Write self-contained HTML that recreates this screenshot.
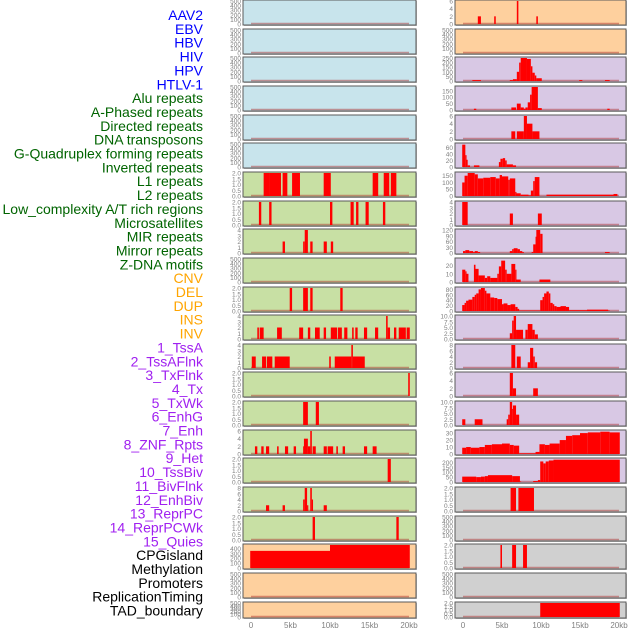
<!DOCTYPE html>
<html><head><meta charset="utf-8"><style>
body{margin:0;background:#fff;width:630px;height:630px;overflow:hidden}
svg{display:block;font-family:"Liberation Sans",sans-serif}
</style></head><body>
<svg id="chart" width="630" height="630"></svg>
<script>
const labels=["AAV2","EBV","HBV","HIV","HPV","HTLV-1","Alu repeats","A-Phased repeats","Directed repeats","DNA transposons","G-Quadruplex forming repeats","Inverted repeats","L1 repeats","L2 repeats","Low_complexity A/T rich regions","Microsatellites","MIR repeats","Mirror repeats","Z-DNA motifs","CNV","DEL","DUP","INS","INV","1_TssA","2_TssAFlnk","3_TxFlnk","4_Tx","5_TxWk","6_EnhG","7_Enh","8_ZNF_Rpts","9_Het","10_TssBiv","11_BivFlnk","12_EnhBiv","13_ReprPC","14_ReprPCWk","15_Quies","CPGisland","Methylation","Promoters","ReplicationTiming","TAD_boundary"];
const labelColors=["#0000ff","#0000ff","#0000ff","#0000ff","#0000ff","#0000ff","#006400","#006400","#006400","#006400","#006400","#006400","#006400","#006400","#006400","#006400","#006400","#006400","#006400","#ffa500","#ffa500","#ffa500","#ffa500","#ffa500","#a020f0","#a020f0","#a020f0","#a020f0","#a020f0","#a020f0","#a020f0","#a020f0","#a020f0","#a020f0","#a020f0","#a020f0","#a020f0","#a020f0","#a020f0","#000","#000","#000","#000","#000"];
const xTicks=[0,5,10,15,20];
const xTickLabels=["0","5kb","10kb","15kb","20kb"];
const T500=[0,100,200,300,400,500], T2=[0,0.5,1,1.5,2];
const B="#c8e4ec",G="#c8e0a4",P="#fed09e",V="#d8c8e4",Y="#d0d0d0";
const leftBg=[B,B,B,B,B,B,G,G,G,G,G,G,G,G,G,G,G,G,G,P,P,P];
const rightBg=[P,P,V,V,V,V,V,V,V,V,V,V,V,V,V,V,V,Y,Y,Y,Y,Y];
const leftMax=[500,500,500,500,500,500,2,2,4,500,2,4,4,2,2,6,2,8,2,470,500,500];
const leftTicks=[T500,T500,T500,T500,T500,T500,T2,T2,[0,1,2,3,4],T500,T2,[0,1,2,3,4],[0,1,2,3,4],T2,T2,[0,2,4,6],T2,[0,2,4,6,8],T2,[0,100,200,300,400],T500,T500];
const leftSegs=[[],[],[],[],[],[],
[[1.6,2.4,2],[2.4,3.8,2],[4.0,4.6,2],[5.2,6.2,2],[9.2,10.1,2],[15.4,16.1,2],[16.8,17.5,2],[17.7,18.4,2]],
[[1.0,1.3,2],[2.3,2.6,2],[10.0,10.3,2],[12.6,13.0,2],[13.3,13.6,2],[14.5,14.9,2],[16.7,17.0,2]],
[[4.0,4.3,2],[6.6,6.8,2],[6.8,7.2,4],[7.5,7.8,2],[9.2,9.6,2],[10.1,10.4,2]],
[],
[[4.9,5.2,2],[6.6,7.2,2],[7.5,7.8,2],[11.3,11.6,2]],
[[0.8,1.0,2],[1.1,1.6,2],[3.3,3.9,2],[6.1,6.6,2],[7.2,7.5,2],[8.1,8.7,2],[9.2,9.5,2],[10.1,10.9,2],[11.0,11.5,2],[11.8,12.2,2],[12.8,13.0,2],[13.2,13.5,2],[14.3,14.7,2],[15.7,16.1,2],[17.1,17.3,4],[17.3,17.6,2],[18.1,18.4,2],[18.7,19.6,2],[19.7,20.1,2]],
[[0.1,0.6,2],[1.4,1.9,2],[2.0,2.7,2],[3.0,4.9,2],[9.9,10.1,2],[10.6,12.7,2],[12.7,12.9,4],[12.9,14.4,2]],
[[19.9,20.1,2]],
[[6.6,7.2,2],[8.2,8.6,2]],
[[0.5,0.8,2],[1.3,1.6,2],[1.9,2.3,2],[3.3,3.5,2],[4.3,4.7,2],[5.4,5.7,2],[6.6,6.7,2],[6.7,7.2,4],[7.2,7.5,2],[7.5,7.7,6],[7.8,8.2,2],[9.2,9.6,2],[9.7,10.4,2],[10.8,11.0,2],[11.6,11.9,2],[14.3,14.7,2],[15.4,15.9,2]],
[[17.3,17.7,2]],
[[1.9,2.3,2],[4.0,4.3,2],[6.6,6.8,4],[6.8,7.1,8],[7.1,7.2,2],[7.5,7.7,8],[7.7,7.8,4],[9.2,9.6,2]],
[[7.8,8.1,2],[18.4,18.7,2]],
[[-0.1,10.0,350],[10.0,20.1,470]],
[],[]];
const rightMax=[6,500,250,180,6,70,170,4,120,28,85,10,8,6,10,33,235,2,500,2,500,2];
const rightTicks=[[0,2,4,6],T500,[0,50,100,150,200,250],[0,50,100,150],[0,2,4,6],[0,20,40,60],[0,50,100,150],[0,1,2,3,4],[0,30,60,90,120],[0,10,20],[0,20,40,60,80],[0,2.5,5,7.5,10],[0,2,4,6,8],[0,2,4,6],[0,2.5,5,7.5,10],[0,10,20,30],[0,50,100,150,200],T2,T500,T2,T500,T2];
const rightSegs=[
[[1.9,2.3,2],[4.0,4.2,2],[6.9,7.1,6],[9.4,9.6,2]],
[],
[[1.2,2.3,10],[6.0,6.4,10],[6.4,6.9,20],[6.9,7.2,100],[7.2,7.4,200],[7.4,8.2,250],[8.2,8.7,240],[8.7,8.9,160],[8.9,9.2,90],[9.2,9.4,60],[9.4,10.1,30],[14.9,15.3,10],[18.2,18.8,10]],
[[1.4,1.7,10],[6.2,6.8,20],[6.9,7.4,50],[7.4,7.8,20],[7.8,8.0,10],[8.0,8.3,20],[8.3,8.6,60],[8.6,8.8,120],[8.8,9.6,180],[9.6,10.1,15],[18.5,18.8,10]],
[[6.2,6.7,2],[6.9,7.8,2],[7.8,8.2,6],[8.2,8.9,4],[8.9,9.8,2]],
[[-0.1,0.3,68],[0.3,0.4,36],[0.4,0.6,22],[0.6,0.9,5],[1.4,2.1,5],[4.6,4.8,15],[4.8,5.1,25],[5.1,5.4,27],[5.4,5.6,20],[5.6,6.4,8],[6.4,6.8,5]],
[[-0.1,0.2,100],[0.2,0.6,150],[0.6,1.5,170],[1.5,1.9,160],[1.9,2.6,130],[2.6,3.5,135],[3.5,4.2,140],[4.2,4.7,130],[4.7,5.0,155],[5.0,5.8,145],[5.8,6.0,120],[6.0,6.7,130],[6.7,6.8,30],[6.8,7.4,20],[7.4,8.4,10],[8.4,8.7,5],[8.7,9.0,40],[9.0,9.2,110],[9.2,9.8,140],[10.7,19.3,10],[19.3,19.8,15]],
[[-0.1,0.6,4],[6.0,6.4,2],[9.6,10.1,2]],
[[0,0.3,10],[0.3,0.8,15],[0.8,1.3,10],[1.3,1.5,5],[1.5,1.9,10],[1.9,2.2,5],[6.0,6.3,10],[6.3,6.5,20],[6.5,7.0,25],[7.0,7.3,20],[7.3,7.6,10],[7.6,7.8,5],[8.8,9.0,5],[9.0,9.3,45],[9.3,9.4,85],[9.4,9.9,120],[9.9,10.2,100],[18.2,18.8,5]],
[[-0.1,0.3,15],[0.3,0.4,13],[0.4,0.7,10],[1.4,1.6,21],[1.6,2.0,16],[2.0,2.8,8],[2.8,3.1,5],[3.1,3.5,7],[3.5,4.4,5],[4.4,4.6,10],[4.6,4.9,19],[4.9,5.4,26],[5.4,5.6,15],[5.6,6.2,10],[6.2,6.7,22],[6.7,6.8,15],[6.8,7.4,3],[9.8,11.2,3]],
[[-0.1,0.2,22],[0.2,0.4,30],[0.4,0.7,38],[0.7,1.2,42],[1.2,1.5,52],[1.5,1.7,60],[1.7,2.0,65],[2.0,2.3,80],[2.3,2.8,85],[2.8,3.0,75],[3.0,3.5,65],[3.5,4.0,50],[4.0,4.4,48],[4.4,5.0,44],[5.0,5.2,25],[5.2,5.7,28],[5.7,6.1,22],[6.1,6.7,25],[6.7,7.0,15],[7.0,7.2,8],[7.2,9.9,2],[9.9,10.2,40],[10.2,10.4,52],[10.4,10.7,65],[10.7,11.0,72],[11.0,11.2,65],[11.2,11.5,30],[11.5,11.7,25],[11.7,12.0,18],[12.0,12.5,15],[12.5,13.2,18],[13.2,13.6,15],[13.6,15.9,3],[15.9,18.6,5],[18.6,18.8,2]],
[[6.0,6.3,2.5],[6.3,6.5,8],[6.5,6.8,10],[6.8,7.7,4],[8.0,8.3,4],[8.3,8.9,6.5],[8.9,9.2,4],[9.2,9.6,2]],
[[6.2,6.7,8],[6.9,7.4,4],[8.3,8.6,2],[8.6,9.0,7],[9.0,9.2,4],[9.2,9.5,2]],
[[6.0,6.4,6],[6.4,6.8,2],[9.0,9.6,2]],
[[-0.1,0.3,2.5],[1.5,2.5,2.5],[5.6,5.8,2.5],[5.8,6.0,4.5],[6.0,6.3,10],[6.3,6.4,7],[6.4,6.8,8.5],[6.8,7.2,4.5]],
[[-0.1,0.4,9],[0.4,1.0,10],[1.0,2.1,9],[2.1,2.8,10],[2.8,3.7,13],[3.7,5.0,14],[5.0,6.0,15],[6.0,6.5,13],[6.5,7.2,12],[7.2,9.3,1],[9.3,9.8,3],[9.8,10.5,14],[10.5,11.1,13],[11.1,12.4,15],[12.4,13.2,20],[13.2,14.0,26],[14.0,15.0,27],[15.0,16.0,30],[16.0,17.6,31],[17.6,18.8,32],[18.8,20.1,31]],
[[-0.1,1.7,55],[1.7,2.3,50],[2.3,2.8,55],[2.8,3.2,60],[3.2,6.3,70],[6.3,7.3,60],[7.3,7.4,5],[9.0,9.6,10],[9.6,9.9,20],[9.9,10.3,210],[10.3,10.6,190],[10.6,11.0,210],[11.0,11.6,220],[11.6,20.1,228]],
[[6.1,6.8,2],[7.1,9.1,2]],
[],
[[4.8,5.0,2],[6.3,6.8,2],[7.7,8.2,2]],
[],
[[9.9,20.1,2]]];

const NS="http://www.w3.org/2000/svg";
const svg=document.getElementById('chart');
function mk(tag,attrs,parent){const e=document.createElementNS(NS,tag);for(const k in attrs)e.setAttribute(k,attrs[k]);(parent||svg).appendChild(e);return e;}
function rowTop(i){return Math.round(i*28.65);}
function rowH(i){return i===21?16:25;}
labels.forEach((t,i)=>{
  const e=mk('text',{x:203,y:20+i*13.85,'text-anchor':'end','font-size':14,fill:labelColors[i]});
  e.textContent=t;
  
  
});
function panel(side,i,bg,segs,ymax,ticks){
  const L=side==='left'?243:455, R=side==='left'?416:626;
  const x0=side==='left'?251:463, x20=side==='left'?409:619;
  const xs=v=>x0+(x20-x0)*v/20;
  const top=rowTop(i), h=rowH(i), bot=top+h-1;
  const ys=v=>bot-(h-2)*v/ymax;
  const g=mk('g',{});
  
  
  mk('rect',{x:L+1,y:top+1,width:R-L,height:h,fill:'#bbb'},g);
  mk('rect',{x:L,y:top,width:R-L,height:h,fill:bg,stroke:'#5a5a5a','stroke-width':1},g);
  mk('line',{x1:xs(0),x2:xs(20),y1:bot-0.5,y2:bot-0.5,stroke:'rgba(170,40,40,0.45)','stroke-width':1.5},g);
  segs.forEach(s=>{
    const r=mk('rect',{x:xs(s[0]),y:ys(s[2]),width:Math.max(1.2,xs(s[1])-xs(s[0])),height:bot-ys(s[2]),fill:'#ff0000'},g);
    
    
  });
  const dec=ticks.some(v=>v%1!==0);
  ticks.forEach(t=>{
    const e=mk('text',{x:L-2,y:ys(t)+2.5,'text-anchor':'end','font-size':6.5,fill:'#808080'},g);
    e.textContent=dec?t.toFixed(1):String(t);
    
    
  });
}
for(let i=0;i<22;i++){
  panel('left',i,leftBg[i],leftSegs[i],leftMax[i],leftTicks[i]);
  panel('right',i,rightBg[i],rightSegs[i],rightMax[i],rightTicks[i]);
}
['left','right'].forEach(side=>{
  const x0=side==='left'?251:463, x20=side==='left'?409:619;
  xTicks.forEach((v,j)=>{
    const e=mk('text',{x:x0+(x20-x0)*v/20,y:628,'text-anchor':'middle','font-size':8,fill:'#808080'});
    e.textContent=xTickLabels[j];
    
    
  });
});
</script>
</body></html>
